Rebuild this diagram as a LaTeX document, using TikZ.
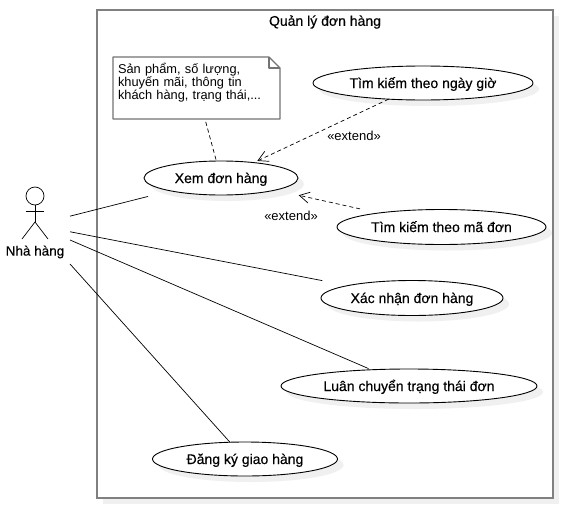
\documentclass[tikz,border=0pt]{standalone}
\usepackage{fontspec}
\setmainfont{Liberation Sans}
\newfontfamily\namefont[FakeBold=0.4]{Liberation Sans}
\usetikzlibrary{arrows.meta,shadows,shapes.geometric}
\tikzset{
  usecase/.style={ellipse,draw,fill=white,line width=0.9pt,outer sep=0pt,inner sep=0pt,
    font=\namefont\fontsize{14}{16}\selectfont,text height=12pt,text depth=2pt,
    drop shadow={shadow xshift=6pt,shadow yshift=-6pt,fill=black!6,opacity=1}},
  assoc/.style={line width=0.7pt},
  extend/.style={dashed,line width=0.7pt,dash pattern=on 4pt off 3pt,-{Straight Barb[length=10pt,width=11pt,line width=0.7pt]}},
  stereo/.style={font=\fontsize{13}{15}\selectfont,inner sep=0pt},
}
\begin{document}
\begin{tikzpicture}[x=1pt,y=-1pt]
    \useasboundingbox (0,0) rectangle (564,506);
    \node[draw=black!50,fill=white,line width=2pt,minimum width=456pt,minimum height=488pt,outer sep=0pt,
      drop shadow={shadow xshift=6pt,shadow yshift=-6pt,fill=black!6,opacity=1}] (frame) at (325,254) {};
    \node[font=\namefont\fontsize{14}{16}\selectfont] (title) at (325,22) {Quản lý đơn hàng};
    % actor
    \node[minimum width=70pt,minimum height=80pt,outer sep=0pt,inner sep=0pt] (actor) at (35,225) {};
    \node[circle,draw,line width=0.7pt,minimum size=18pt,inner sep=0pt] (head) at (35,196) {};
    \coordinate (hip) at (35,222);
    \coordinate (armL) at (26,211);
    \coordinate (armR) at (44,211);
    \coordinate (legL) at (22,239);
    \coordinate (legR) at (48,239);
    \draw[assoc] (head) -- (hip);
    \draw[assoc] (armL) -- (armR);
    \draw[assoc] (legL) -- (hip) -- (legR);
    \node[font=\namefont\fontsize{13.5}{15}\selectfont] (actorname) at (35,252) {Nhà hàng};
    % use cases
    \node[usecase,minimum width=154pt,minimum height=34pt] (xem) at (221,178) {Xem đơn hàng};
    \node[usecase,minimum width=220pt,minimum height=34pt] (ngay) at (423,83) {Tìm kiếm theo ngày giờ};
    \node[usecase,minimum width=209pt,minimum height=35pt] (ma) at (441.5,227) {Tìm kiếm theo mã đơn};
    \node[usecase,minimum width=182pt,minimum height=35pt] (xacnhan) at (412,298) {Xác nhận đơn hàng};
    \node[usecase,minimum width=256pt,minimum height=34pt] (luan) at (409,386) {Luân chuyển trạng thái đơn};
    \node[usecase,minimum width=185pt,minimum height=34pt] (dangky) at (245,459) {Đăng ký giao hàng};
    % note
    \node[fill=white,minimum width=167pt,minimum height=62pt,outer sep=0pt,inner sep=5pt,text width=157pt,
      align=left,font=\fontsize{12.8}{13}\selectfont] (note) at (196.5,88)
      {Sản phẩm, số lượng,\\khuyến mãi, thông tin\\khách hàng, trạng thái,...\\~};
    \coordinate (foldA) at ([xshift=-11pt]note.north east);
    \coordinate (foldB) at ([yshift=-11pt]note.north east);
    \coordinate (foldC) at ([xshift=-11pt,yshift=-11pt]note.north east);
    \draw[black!55,line width=1.2pt,line join=round] (note.north west) -- (foldA) -- (foldB) -- (note.south east) -- (note.south west) -- cycle;
    \draw[black!55,line width=1.2pt,line join=round] (foldA) -- (foldC) -- (foldB);
    % connectors
    \draw[assoc,shorten >=23pt] (actor) -- (xem);
    \draw[assoc,shorten >=26pt] (actor) -- (xacnhan);
    \draw[assoc,shorten >=3pt] (actor) -- (luan);
    \draw[assoc] (actor) -- (dangky);
    \draw[dashed,line width=0.7pt,dash pattern=on 4pt off 3pt,shorten <=3pt] (note) -- (xem);
    \draw[extend,shorten >=4pt] (ngay) -- (xem);
    \draw[extend,shorten <=19pt,shorten >=24pt] (ma) -- (xem);
    \node[stereo] (extA) at (354,136) {«extend»};
    \node[stereo] (extB) at (291,216) {«extend»};
  \end{tikzpicture}
\end{document}
